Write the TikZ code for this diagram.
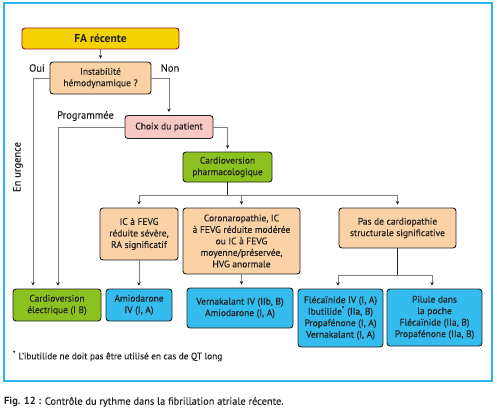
\documentclass[tikz,border=0pt]{standalone}
\usepackage{fontspec}
\setmainfont{PT Sans}[UprightFeatures={FakeBold=0.25}]
\usetikzlibrary{arrows.meta}
\definecolor{frameblue}{HTML}{2CB5EE}
\definecolor{fayellow}{HTML}{F5D300}
\definecolor{faborder}{HTML}{A3123A}
\definecolor{peach}{HTML}{FAD2A6}
\definecolor{pinkbox}{HTML}{F8C8C4}
\definecolor{greenbox}{HTML}{8CC21F}
\definecolor{bluebox}{HTML}{35BCEE}
\definecolor{linegray}{HTML}{808080}
\definecolor{txt}{HTML}{222222}
\begin{document}
\begin{tikzpicture}[x=1pt,y=-1pt,
 box/.style={draw=txt, line width=0.9pt, rounded corners=3pt, align=center, inner sep=0pt,
   font=\fontsize{9.5}{11.5}\selectfont, text=txt},
 conn/.style={draw=linegray, line width=0.6pt},
 arr/.style={conn, -{Stealth[length=3.5pt,width=3.5pt,color=txt,fill=txt]}, shorten >=3pt},
 lbl/.style={font=\fontsize{10.5}{12}\selectfont, text=txt, inner sep=0pt},
]
\useasboundingbox (0,0) rectangle (497,410);
\draw[frameblue, line width=1.3pt] (4,3) rectangle (492,381);

\node[box, fill=fayellow, draw=faborder, minimum width=157pt, minimum height=21pt,
  font=\bfseries\fontsize{11.5}{13}\selectfont] (fa) at (100.5,38.5) {FA récente};
\node[box, fill=peach, minimum width=101pt, minimum height=32pt] (instab) at (100.5,78) {Instabilité\\hémodynamique ?};
\node[box, fill=pinkbox, minimum width=88pt, minimum height=23pt] (choix) at (169,127) {Choix du patient};
\node[box, fill=greenbox, minimum width=89pt, minimum height=30pt] (cpharm) at (227.5,167) {Cardioversion\\pharmacologique};
\node[box, fill=peach, minimum width=78pt, minimum height=52pt] (ic) at (139,234) {IC à FEVG\\réduite sévère,\\RA significatif};
\node[box, fill=peach, minimum width=117pt, minimum height=66pt] (coro) at (241.5,241) {Coronaropathie, IC\\à FEVG réduite modérée\\ou IC à FEVG\\moyenne/préservée,\\HVG anormale};
\node[box, fill=peach, minimum width=117pt, minimum height=40pt] (pas) at (397.5,228) {Pas de cardiopathie\\structurale significative};
\node[box, fill=greenbox, minimum width=88pt, minimum height=32pt] (cel) at (57,305) {Cardioversion\\électrique (I B)};
\node[box, fill=bluebox, minimum width=66pt, minimum height=32pt] (amio) at (139,305) {Amiodarone\\IV (I, A)};
\node[box, fill=bluebox, minimum width=106pt, minimum height=40pt] (vern) at (240,308) {Vernakalant IV (IIb, B)\\Amiodarone (I, A)};
\node[box, fill=bluebox, minimum width=85pt, minimum height=58pt] (flec) at (340.5,318) {Flécaïnide IV (I, A)\\Ibutilide\textsuperscript{*} (IIa, B)\\Propafénone (I, A)\\Vernakalant (I, A)};
\node[box, fill=bluebox, minimum width=95pt, minimum height=57pt] (pil) at (434.5,317.5) {Pilule dans\\la poche\\Flécaïnide (IIa, B)\\Propafénone (IIa, B)};

\node[lbl] (oui) at (37,68) {Oui};
\node[lbl] (non) at (170,68) {Non};
\node[lbl] (prog) at (85.5,116) {Programmée};
\node[lbl, rotate=90] (urg) at (18,167) {En urgence};

\draw[arr] (fa.south) -- (instab.north);
\draw[arr] (instab.west) -| ([xshift=-24pt]cel.north);
\draw[arr] (choix.west) -| ([xshift=1pt]cel.north);
\draw[arr] (instab.east) -| (choix.north);
\draw[arr] (choix.east) -| (cpharm.north);
\path (cpharm.south) ++(0,13) coordinate (br);
\draw[line width=1.3pt, txt] (cpharm.south) -- (br);
\draw[arr] (br) -| (ic.north);
\draw[arr] (br) -| (coro.north);
\draw[arr] (br) -| (pas.north);
\draw[arr] (ic.south) -- (amio.north);
\draw[arr] (coro.south) -- (coro.south |- vern.north);
\path (pas.south) ++(0,27) coordinate (br2);
\draw[conn, draw=txt] (pas.south) -- (br2);
\draw[arr] (br2) -| ([xshift=-2.5pt]flec.north);
\draw[arr] (br2) -| ([xshift=-2.5pt]pil.north);

\node[lbl, anchor=west, font=\fontsize{9.3}{11}\selectfont] (foot) at (13,356) {\textsuperscript{*} L’ibutilide ne doit pas être utilisé en cas de QT long};
\node[lbl, anchor=west, font=\fontsize{10.4}{12}\selectfont] (cap) at (4,402) {\textbf{Fig. 12 :} Contrôle du rythme dans la fibrillation atriale récente.};
\end{tikzpicture}
\end{document}
